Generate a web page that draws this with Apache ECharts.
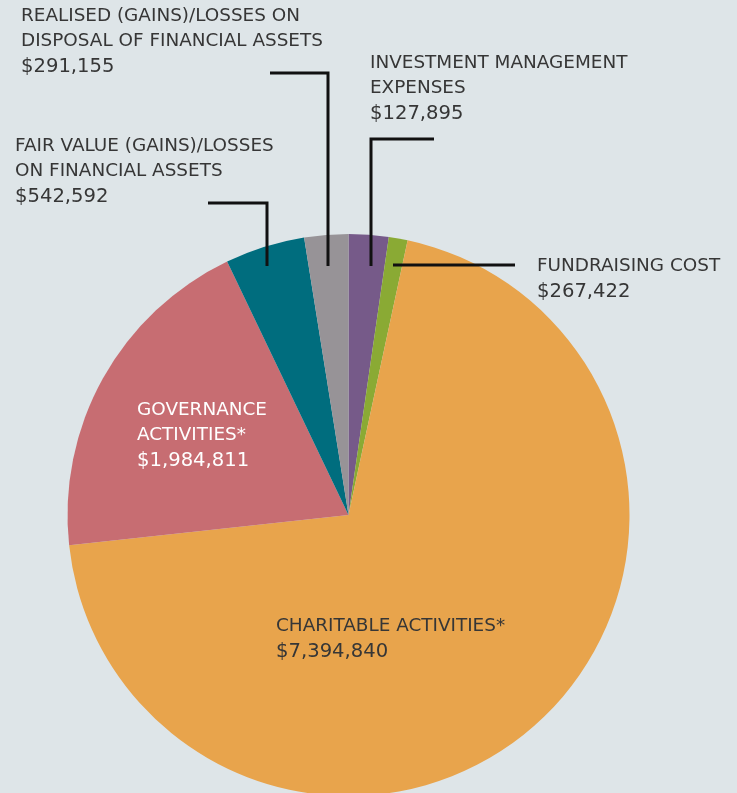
<!DOCTYPE html>
<html>
<head>
<meta charset="utf-8">
<script src="https://cdn.jsdelivr.net/npm/echarts@6/dist/echarts.min.js"></script>
<style>
html,body{margin:0;padding:0;background:#dee5e8;}
#chart{width:737px;height:793px;}
</style>
</head>
<body>
<div id="chart"></div>
<script>
// Slices in clockwise order from 12 o'clock (sizes)
const categories = [
  'Investment management expenses',
  'Fundraising cost',
  'Charitable activities',
  'Governance activities',
  'Fair value (gains)/losses on financial assets',
  'Realised (gains)/losses on disposal of financial assets'
];
const values = [243000, 115000, 7414000, 2080000, 486000, 268000];
// Label titles and amounts as printed on the chart
const labelTitles = [
  ['INVESTMENT MANAGEMENT', 'EXPENSES'],
  ['FUNDRAISING COST'],
  ['CHARITABLE ACTIVITIES*'],
  ['GOVERNANCE', 'ACTIVITIES*'],
  ['FAIR VALUE (GAINS)/LOSSES', 'ON FINANCIAL ASSETS'],
  ['REALISED (GAINS)/LOSSES ON', 'DISPOSAL OF FINANCIAL ASSETS']
];
const labelAmounts = ['$127,895', '$267,422', '$7,394,840', '$1,984,811', '$542,592', '$291,155'];
const colors = ['#765a89', '#8aaa34', '#e8a44c', '#c76d72', '#006d7e', '#979397'];
const labelColors = ['#363636', '#363636', '#363636', '#ffffff', '#363636', '#363636'];
const hasLine = [true, true, false, false, true, true];

// annotation layout (text positions and elbow leader lines)
const labelPos = [
  {x: 370, y: 51, line: [[371, 266], [371, 139], [434, 139]]},
  {x: 537, y: 254, line: [[393, 265], [454, 265], [515, 265]]},
  {x: 276, y: 614},
  {x: 137, y: 398},
  {x: 15, y: 134, line: [[267, 266], [267, 203], [208, 203]]},
  {x: 21, y: 4, line: [[328, 266], [328, 73], [270, 73]]}
];

const chart = echarts.init(document.getElementById('chart'), null, {renderer: 'canvas'});

const sliceData = categories.map((name, i) => ({
  name: name,
  value: values[i],
  itemStyle: {color: colors[i]}
}));

const labelData = categories.map((name, i) => ({
  name: name,
  value: values[i],
  itemStyle: {color: 'rgba(0,0,0,0)'},
  label: {
    color: labelColors[i],
    formatter: labelTitles[i].map(t => '{t|' + t + '}').join('\n') + '\n{a|' + labelAmounts[i] + '}',
    rich: {
      t: {color: labelColors[i], fontFamily: 'DejaVu Sans', fontSize: 18.4, lineHeight: 25},
      a: {color: labelColors[i], fontFamily: 'DejaVu Sans', fontSize: 19.6, lineHeight: 25}
    }
  },
  labelLine: {show: hasLine[i], lineStyle: {color: '#111111', width: 3, opacity: 1}}
}));

const common = {
  type: 'pie',
  center: [348.5, 515],
  radius: 281,
  startAngle: 90,
  clockwise: true,
  avoidLabelOverlap: false,
  silent: true,
  emphasis: {disabled: true}
};

chart.setOption({
  backgroundColor: '#dee5e8',
  animation: false,
  series: [
    Object.assign({}, common, {
      z: 2,
      data: sliceData,
      itemStyle: {borderWidth: 0},
      label: {show: false},
      labelLine: {show: false}
    }),
    Object.assign({}, common, {
      z: 5,
      data: labelData,
      itemStyle: {borderWidth: 0},
      label: {
        show: true,
        position: 'outside',
        fontFamily: 'DejaVu Sans',
        fontSize: 18.4,
        lineHeight: 25,
        align: 'left',
        opacity: 1
      },
      labelLine: {show: true, smooth: false},
      labelLayout: function (params) {
        const p = labelPos[params.dataIndex];
        const out = {x: p.x, y: p.y, align: 'left', verticalAlign: 'top'};
        if (p.line) out.labelLinePoints = p.line;
        return out;
      }
    })
  ]
});
</script>
</body>
</html>
